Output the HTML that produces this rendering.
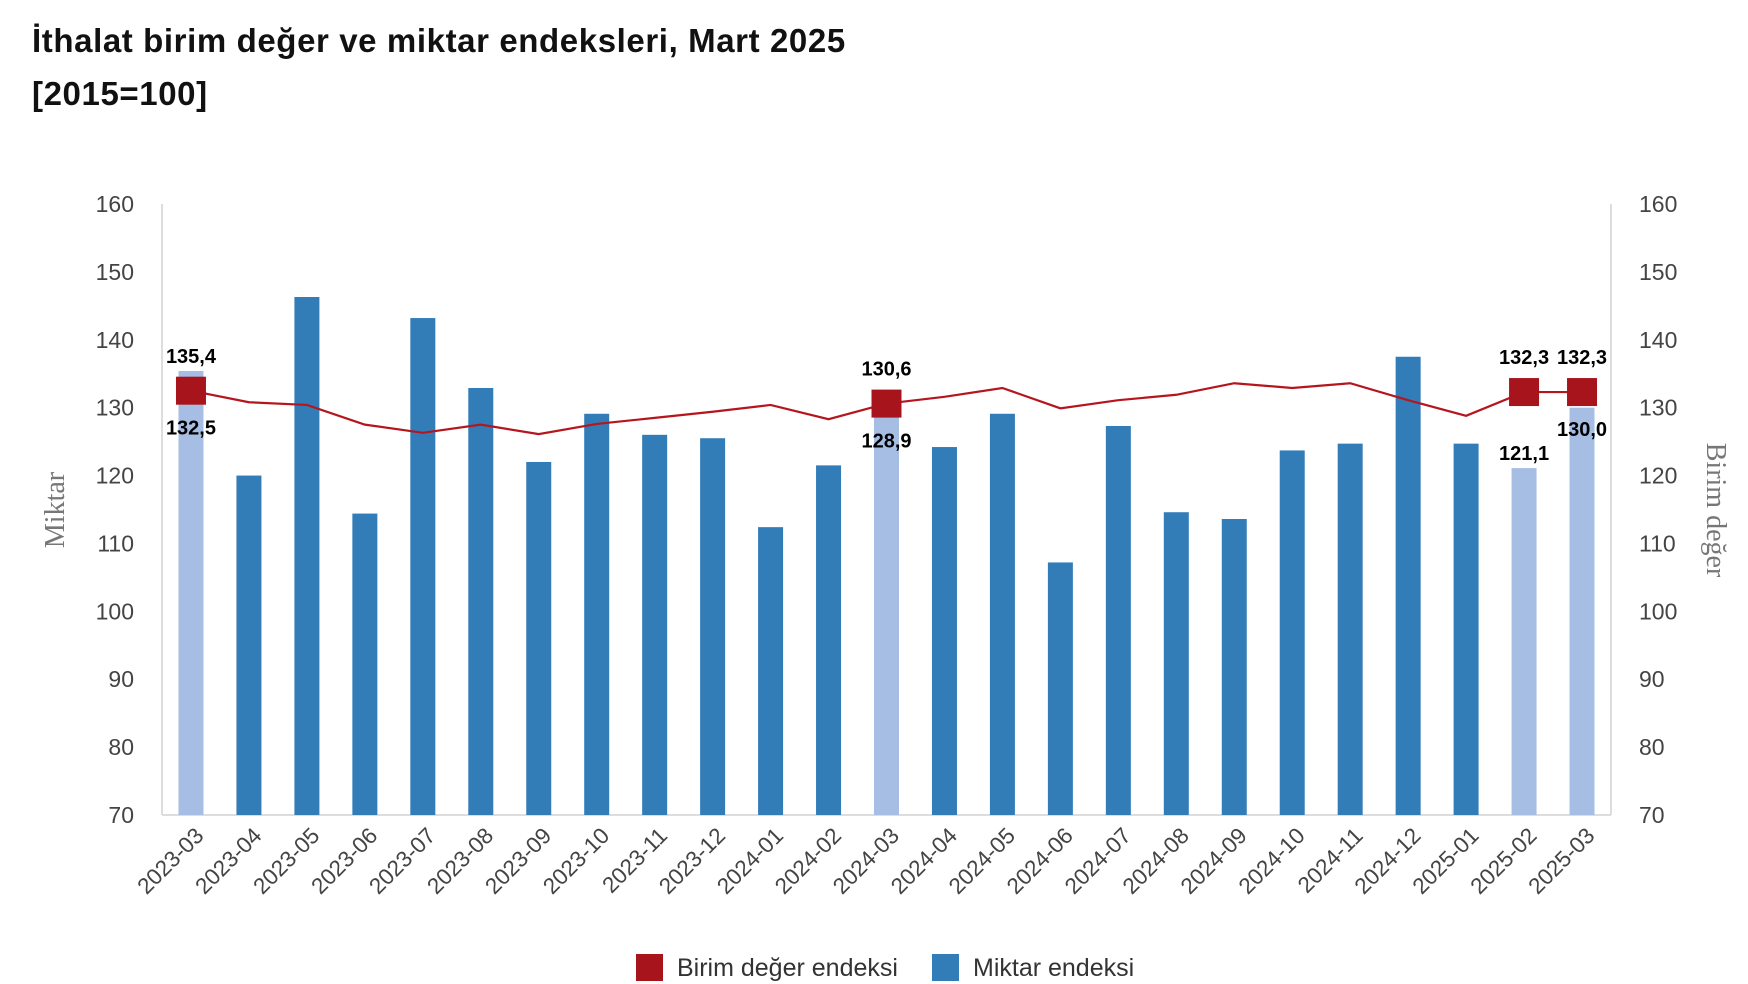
<!DOCTYPE html>
<html><head><meta charset="utf-8"><style>
html,body{margin:0;padding:0;background:#fff;}
svg{display:block;}
</style></head><body>
<svg id="chart" width="1748" height="984" viewBox="0 0 1748 984" xmlns="http://www.w3.org/2000/svg">
<text x="32" y="52" font-family="Liberation Sans, sans-serif" font-size="33" font-weight="bold" fill="#111" letter-spacing="0.6">İthalat birim değer ve miktar endeksleri, Mart 2025</text>
<text x="32" y="105" font-family="Liberation Sans, sans-serif" font-size="33" font-weight="bold" fill="#111" letter-spacing="0.6">[2015=100]</text>
<g id="grid"></g><g id="bars"></g><g id="line"></g><g id="labels"></g>
<text transform="translate(64,510) rotate(-90)" text-anchor="middle" font-family="Liberation Serif, serif" font-size="28" fill="#777">Miktar</text>
<text transform="translate(1707,510) rotate(90)" text-anchor="middle" font-family="Liberation Serif, serif" font-size="28" fill="#777">Birim değer</text>
<g>
<rect x="636" y="954" width="27" height="27" fill="#A8141C"/>
<text x="677" y="976" font-family="Liberation Sans, sans-serif" font-size="25" fill="#333">Birim değer endeksi</text>
<rect x="932" y="954" width="27" height="27" fill="#327DB8"/>
<text x="973" y="976" font-family="Liberation Sans, sans-serif" font-size="25" fill="#333">Miktar endeksi</text>
</g>
</svg>
<script>
const categories=["2023-03","2023-04","2023-05","2023-06","2023-07","2023-08","2023-09","2023-10","2023-11","2023-12","2024-01","2024-02","2024-03","2024-04","2024-05","2024-06","2024-07","2024-08","2024-09","2024-10","2024-11","2024-12","2025-01","2025-02","2025-03"];
const miktar=[135.4,120.0,146.3,114.4,143.2,132.9,122.0,129.1,126.0,125.5,112.4,121.5,128.9,124.2,129.1,107.2,127.3,114.6,113.6,123.7,124.7,137.5,124.7,121.1,130.0];
const birim=[132.5,130.8,130.4,127.5,126.3,127.5,126.1,127.6,128.5,129.4,130.4,128.3,130.6,131.6,132.9,129.9,131.1,131.9,133.6,132.9,133.6,131.1,128.8,132.3,132.3];
const ticks=[70,80,90,100,110,120,130,140,150,160];
const highlight=["2023-03","2024-03","2025-02","2025-03"];
const NS="http://www.w3.org/2000/svg";
const L=162,R=1611,T=204,B=815,yMin=70,yMax=160;
const bw=(R-L)/categories.length;
const x=i=>L+bw*(i+0.5);
const y=v=>B-(v-yMin)/(yMax-yMin)*(B-T);
function mk(tag,attrs,parent,txt){const e=document.createElementNS(NS,tag);for(const k in attrs)e.setAttribute(k,attrs[k]);if(txt!==undefined)e.textContent=txt;document.getElementById(parent).appendChild(e);return e;}
let a=mk('line',{x1:L,y1:T,x2:L,y2:B,stroke:'#ddd','stroke-width':2},'grid');

a=mk('line',{x1:R,y1:T,x2:R,y2:B,stroke:'#ddd','stroke-width':2},'grid');

a=mk('line',{x1:L,y1:B,x2:R,y2:B,stroke:'#ddd','stroke-width':2},'grid');

ticks.forEach(t=>{
 let e=mk('text',{x:134,y:y(t)+8,'text-anchor':'end','font-family':'Liberation Sans, sans-serif','font-size':23,fill:'#444'},'grid',t);
 
 e=mk('text',{x:R+28,y:y(t)+8,'text-anchor':'start','font-family':'Liberation Sans, sans-serif','font-size':23,fill:'#444'},'grid',t);
 
});
categories.forEach((c,i)=>{
 const hl=highlight.includes(c);
 let b=mk('rect',{x:x(i)-12.5,y:y(miktar[i]),width:25,height:B-y(miktar[i]),fill:hl?'#A6BEE3':'#327DB8'},'bars');
 
 let t=mk('text',{transform:`translate(${x(i)+14},${B+22}) rotate(-45)`,'text-anchor':'end','font-family':'Liberation Sans, sans-serif','font-size':22.5,fill:'#444'},'labels',c);
 
});
let pts=birim.map((v,i)=>x(i)+','+y(v)).join(' ');
let pl=mk('polyline',{points:pts,fill:'none',stroke:'#B5161E','stroke-width':2.2},'line');

function lab(txt,cx,cy,name){const e=mk('text',{x:cx,y:cy,'text-anchor':'middle','font-family':'Liberation Sans, sans-serif','font-size':20,'font-weight':'bold',fill:'#000'},'labels',txt);
 }
const fmt=v=>v.toFixed(1).replace('.',',');
categories.forEach((c,i)=>{
 if(!highlight.includes(c))return;
 let m=mk('rect',{x:x(i)-15,y:y(birim[i])-14,width:30,height:28,fill:'#A8141C'},'line');
 
 if(miktar[i]>birim[i]){lab(fmt(miktar[i]),x(i),y(miktar[i])-8,'bar-value-label');lab(fmt(birim[i]),x(i),y(birim[i])+44,'line-value-label');}
 else if(miktar[i]<birim[i]-5){lab(fmt(birim[i]),x(i),y(birim[i])-28,'line-value-label');lab(fmt(miktar[i]),x(i),y(miktar[i])-8,'bar-value-label');}
 else {lab(fmt(birim[i]),x(i),y(birim[i])-28,'line-value-label');lab(fmt(miktar[i]),x(i),y(birim[i])+44,'bar-value-label');}
});
</script>
</body></html>
